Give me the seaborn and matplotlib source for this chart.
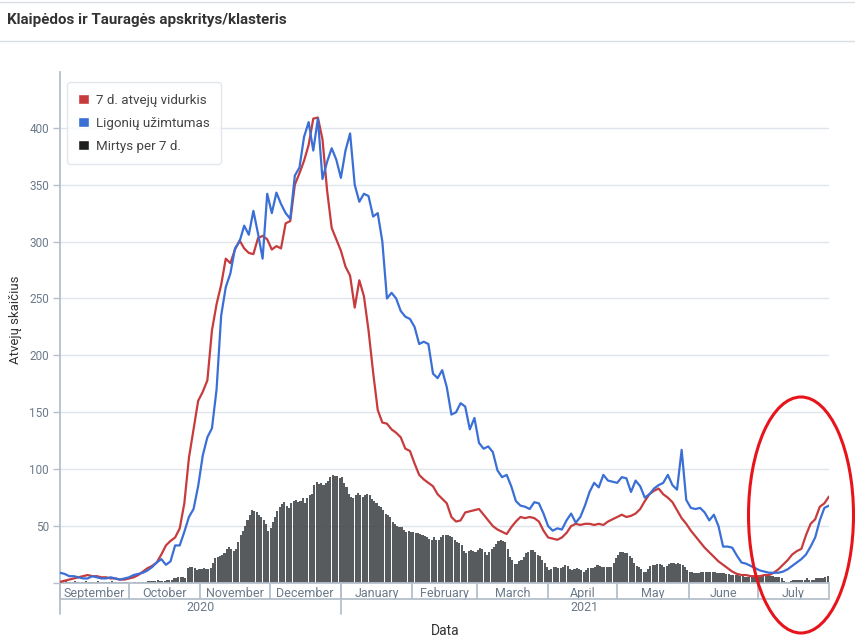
import matplotlib
matplotlib.use('Agg')
import matplotlib.pyplot as plt
import matplotlib.dates as mdates
from matplotlib.patches import Patch, Ellipse
from matplotlib.lines import Line2D
import seaborn as sns
import pandas as pd

sns.set_theme(style='white')
plt.rcParams['font.family'] = ['Roboto', 'DejaVu Sans']

# 7 d. atvejų vidurkis, every 2nd day from 2020-09-01
cases_avg = [1, 2, 3, 4, 5, 6, 7, 6, 6, 5, 5, 4, 4, 3, 3, 4, 5, 7, 10, 13,
             15, 18, 25, 33, 37, 40, 48, 70, 110, 135, 160, 168, 178, 222, 245, 262, 285, 281, 293, 301,
             294, 290, 289, 303, 305, 302, 293, 296, 294, 316, 318, 350, 360, 371, 385, 408, 409, 390, 345, 312,
             302, 292, 278, 270, 242, 266, 252, 222, 185, 152, 141, 140, 135, 132, 128, 118, 116, 105, 95, 91,
             88, 85, 78, 74, 70, 58, 54, 55, 62, 63, 64, 65, 60, 55, 50, 47, 45, 43, 49, 54,
             58, 57, 58, 57, 54, 46, 40, 39, 38, 40, 44, 50, 52, 51, 52, 52, 51, 52, 51, 54,
             56, 58, 60, 58, 59, 61, 65, 72, 78, 81, 83, 78, 75, 71, 64, 57, 52, 46, 41, 36,
             31, 27, 23, 19, 16, 13, 10, 8, 7, 7, 6, 6, 6, 7, 7, 9, 12, 16, 20, 25,
             28, 30, 42, 52, 56, 67, 70, 76]

# Ligonių užimtumas, every 2nd day from 2020-09-01
hospital = [9, 8, 6, 6, 5, 4, 4, 6, 5, 4, 4, 5, 4, 3, 4, 5, 7, 8, 9, 11,
            14, 18, 21, 16, 19, 33, 33, 45, 58, 65, 85, 112, 128, 136, 170, 235, 260, 272, 294, 300,
            314, 306, 327, 307, 285, 342, 325, 343, 333, 325, 320, 358, 365, 392, 405, 380, 408, 355, 370, 382,
            372, 356, 380, 395, 350, 335, 342, 340, 322, 325, 300, 250, 255, 250, 239, 234, 232, 225, 210, 212,
            210, 184, 180, 187, 172, 148, 150, 158, 155, 135, 145, 123, 118, 120, 115, 99, 93, 95, 85, 72,
            68, 67, 65, 71, 70, 61, 50, 46, 48, 47, 55, 61, 53, 58, 68, 80, 88, 84, 95, 90,
            89, 88, 93, 92, 80, 90, 85, 75, 78, 83, 86, 88, 95, 86, 82, 117, 73, 66, 65, 66,
            62, 55, 60, 50, 32, 32, 31, 24, 18, 17, 15, 13, 11, 10, 9, 9, 9, 10, 12, 15,
            18, 21, 25, 32, 40, 55, 66, 68]

# Mirtys per 7 d., daily from 2020-09-01
deaths = [1, 1, 2, 1, 1, 1, 2, 1, 1, 1, 1, 2, 1, 1, 1, 1, 2, 1, 1, 1, 1, 1, 2, 1, 1, 1, 1, 1, 1,
          1, 0, 0, 1, 0, 1, 1, 1, 1,
          2, 2, 2, 2, 3, 2, 2, 2, 3, 3, 3,
          4, 4, 5, 5, 5, 4,
          13, 14, 14, 13, 11, 12, 12, 13, 12, 12, 13, 18, 22,
          23, 24, 25, 26, 30, 32, 30, 28, 30, 36, 42, 46, 50, 55, 60, 64,
          63, 62, 60, 58, 55, 52, 46, 48, 54, 58, 63, 67, 69, 71, 68, 66, 70,
          72, 73, 71, 72, 75, 70, 75, 77, 78, 86, 89, 87, 88, 86, 88, 90, 93, 95,
          94, 94, 92, 93, 88, 84, 78, 76, 75, 77, 79, 77, 76, 77, 78, 77, 74, 72,
          70, 68, 67, 64, 61, 60, 58, 54, 52, 50, 49, 49, 47, 45, 46, 45, 45, 44,
          44, 43, 42, 41, 40, 39, 38, 40, 38, 38, 40, 42, 42, 42, 41, 40, 38, 36,
          35, 33, 28, 26, 28, 29, 28, 27, 29, 31, 30, 27, 25, 27, 30, 32, 34, 37,
          38, 37, 36, 30, 23, 20, 17, 17, 19, 20, 23, 26, 27, 29, 29, 27, 25, 24,
          20, 18, 14, 11, 12, 14, 14, 13, 13, 14, 16, 15, 12, 11, 12, 13, 12, 11,
          10, 11, 13, 13, 13, 14, 16, 15, 14, 14, 14, 14, 14, 18, 22, 25, 27, 27,
          26, 26, 24, 22, 18, 15, 14, 12, 10, 10, 12, 15, 16, 16, 17, 17, 16, 14,
          15, 17, 18, 18, 17, 18, 17, 16, 14, 11, 10, 10, 9, 9, 9, 10, 10, 10,
          10, 10, 10, 10, 9, 9, 9, 9, 8, 8, 7, 7, 7, 7, 6, 6, 5, 5,
          5, 6, 6, 7, 7, 7, 7, 7, 7, 6, 6, 5, 5, 5, 4, 2, 1, 1,
          2, 3, 3, 3, 3, 3, 3, 4, 3, 3, 3, 4, 4, 4, 4, 5, 6]

months = ['September', 'October', 'November', 'December', 'January', 'February',
          'March', 'April', 'May', 'June', 'July']
years = ['2020', '2021']
series_names = ['7 d. atvejų vidurkis', 'Ligonių užimtumas', 'Mirtys per 7 d.']

RED = '#c73b3d'
BLUE = '#3a6fd6'
BAR = '#46494b'
AXIS = '#b5c0cc'
TICKTXT = '#6b7a8a'

start = pd.Timestamp('2020-09-01')
end = pd.Timestamp('2021-08-01')
line_dates = pd.date_range(start, periods=len(cases_avg), freq='2D')
bar_dates = pd.date_range(start, periods=len(deaths), freq='D')

df = pd.concat([
    pd.DataFrame({'date': line_dates, 'value': cases_avg, 'series': series_names[0]}),
    pd.DataFrame({'date': pd.date_range(start, periods=len(hospital), freq='2D'),
                  'value': hospital, 'series': series_names[1]}),
])

W, H = 855, 644
fig = plt.figure(figsize=(W / 100, H / 100), dpi=100)
ax = fig.add_axes([60 / W, (H - 583) / H, (829 - 60) / W, (583 - 72) / H])

ax.yaxis.grid(True, color='#dfe5eb', lw=1)
ax.set_axisbelow(True)

ax.bar(bar_dates, deaths, width=0.9, align='edge', color=BAR, alpha=0.9,
       edgecolor='none', zorder=2)
sns.lineplot(data=df, x='date', y='value', hue='series',
             palette={series_names[0]: RED, series_names[1]: BLUE},
             linewidth=1.6, legend=False, ax=ax, zorder=3)

ax.set_xlim(start, end)
ax.set_ylim(0, 449)
ax.set_xlabel('')
ax.set_ylabel('')

for s in ['top', 'right']:
    ax.spines[s].set_visible(False)
for s in ['left', 'bottom']:
    ax.spines[s].set_color(AXIS)
    ax.spines[s].set_linewidth(1.3)

ax.set_yticks(range(0, 401, 50))
ax.set_yticklabels([''] + [str(v) for v in range(50, 401, 50)])
ax.tick_params(axis='y', left=True, length=5, width=1, color=AXIS,
               labelcolor=TICKTXT, labelsize=8.5, pad=3)

# month blocks on the x axis
month_starts = pd.date_range(start, periods=len(months) + 1, freq='MS')
mids = [a + (b - a) / 2 for a, b in zip(month_starts[:-1], month_starts[1:])]
ax.set_xticks(mdates.date2num(month_starts))
ax.set_xticklabels([])
ax.set_xticks(mdates.date2num(mids), minor=True)
ax.set_xticklabels(months, minor=True)
ax.tick_params(axis='x', which='major', bottom=True, length=11.5, width=1.3,
               color=AXIS, direction='out')
ax.tick_params(axis='x', which='minor', bottom=True, length=0, pad=3,
               labelsize=9, labelcolor=TICKTXT)

# year row
trans = ax.get_xaxis_transform()
row1 = -16 / 511
row2 = -31 / 511
ax.plot([start, end], [row1, row1], transform=trans, color=AXIS, lw=1.3, clip_on=False)
year_edges = [start, pd.Timestamp('2021-01-01'), end]
for x in year_edges[:2]:
    ax.plot([x, x], [0, row2], transform=trans, color=AXIS, lw=1.3, clip_on=False)
for lab, a, b in zip(years, year_edges[:-1], year_edges[1:]):
    ax.text(a + (b - a) / 2, (row1 + row2) / 2 - 0.002, lab, transform=trans,
            ha='center', va='center', fontsize=9, color=TICKTXT)

handles = [Patch(facecolor=RED), Patch(facecolor=BLUE), Patch(facecolor='#1c1e20')]
leg = ax.legend(handles, series_names, loc='upper left', bbox_to_anchor=(0.009, 0.98),
                borderaxespad=0, fontsize=9.6, handlelength=0.8, handleheight=0.8,
                handletextpad=0.5, labelspacing=0.75, borderpad=0.85, frameon=True,
                fancybox=True, labelcolor='#444444')
leg.get_frame().set_edgecolor('#dde2e8')
leg.get_frame().set_linewidth(1)

fig.text(7 / W, 1 - 20 / H, 'Klaipėdos ir Tauragės apskritys/klasteris', ha='left',
         va='center', fontsize=10.9, fontweight='bold', color='#333333')
for yy in [2, 41]:
    fig.add_artist(Line2D([0, 1], [1 - yy / H] * 2, transform=fig.transFigure,
                          color='#d8dee4', lw=1))
fig.text(445 / W, 1 - 631 / H, 'Data', ha='center', va='center', fontsize=10, color='#333333')
fig.text(16 / W, 1 - 320 / H, 'Atvejų skaičius', ha='center', va='center', rotation=90,
         fontsize=9.5, color='#333333')

# red hand-drawn ellipse marking July
fig.add_artist(Ellipse((801 / W, 1 - 515 / H), 105 / W, 236 / H, transform=fig.transFigure,
                       fill=False, edgecolor='#e8141c', lw=2.2))

fig.savefig('out.png', dpi=100)
